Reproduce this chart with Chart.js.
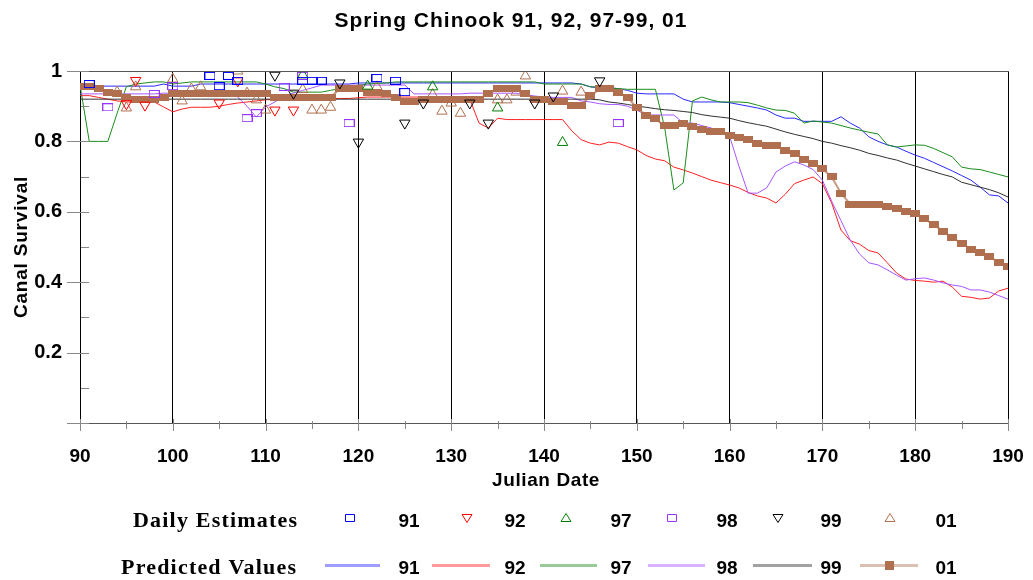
<!DOCTYPE html>
<html>
<head>
<meta charset="utf-8">
<script src="https://cdn.jsdelivr.net/npm/chart.js@4.4.1/dist/chart.umd.min.js"></script>
<style>
  html, body { margin: 0; padding: 0; background: #fff; }
</style>
</head>
<body>
<canvas id="chart" width="1033" height="580"></canvas>
<script>
// julian days 90..190
const days = [];
for (let d = 90; d <= 190; d++) days.push(d);

const xTicks = [90, 100, 110, 120, 130, 140, 150, 160, 170, 180, 190];
const yTicks = [0, 0.2, 0.4, 0.6, 0.8, 1];
const years = ['91', '92', '97', '98', '99', '01'];

// predicted values, one per day
const pred91 = [
  .963,.963,.957,.957,.957,.957,.957,.957,.957,.963,
  .957,.957,.957,.963,.963,.963,.963,.963,.963,.963,
  .963,.963,.963,.963,.963,.963,.963,.963,.963,.963,
  .966,.966,.966,.966,.966,.966,.966,.966,.966,.966,
  .966,.966,.966,.966,.966,.966,.966,.966,.966,.966,
  .966,.966,.966,.966,.963,.955,.952,.952,.95,.945,
  .937,.935,.935,.935,.935,.92,.912,.912,.912,.912,
  .91,.905,.9,.895,.889,.875,.866,.866,.857,.857,
  .857,.857,.87,.852,.838,.813,.8,.79,.784,.772,
  .761,.752,.74,.728,.716,.703,.69,.67,.648,.645,
  .625
];
const pred92 = [
  .93,.93,.925,.92,.915,.912,.912,.912,.912,.898,
  .884,.892,.897,.897,.897,.9,.905,.909,.912,.915,
  .918,.92,.922,.922,.922,.922,.922,.922,.922,.922,
  .924,.926,.926,.926,.926,.926,.926,.926,.926,.926,
  .926,.926,.92,.852,.838,.866,.862,.862,.862,.862,
  .862,.862,.862,.83,.805,.795,.79,.798,.795,.785,
  .776,.76,.75,.745,.727,.719,.71,.7,.69,.683,
  .676,.668,.655,.645,.639,.625,.65,.68,.69,.699,
  .68,.625,.548,.518,.508,.49,.483,.455,.426,.409,
  .405,.403,.4,.403,.386,.36,.357,.352,.355,.375,
  .383
];
const pred97 = [
  .96,.80,.80,.80,.88,.955,.963,.966,.969,.969,
  .963,.966,.969,.969,.969,.969,.969,.969,.969,.969,
  .963,.955,.95,.94,.94,.94,.94,.945,.95,.955,
  .96,.963,.965,.966,.969,.969,.969,.969,.969,.969,
  .969,.969,.969,.969,.969,.969,.969,.969,.969,.969,
  .963,.963,.963,.963,.963,.955,.955,.952,.95,.948,
  .948,.948,.948,.84,.662,.682,.915,.926,.918,.912,
  .912,.912,.91,.903,.895,.889,.888,.88,.852,.858,
  .855,.852,.845,.838,.832,.826,.821,.79,.784,.787,
  .79,.789,.78,.768,.756,.727,.722,.72,.713,.706,
  .699
];
const pred98 = [
  .935,.935,.935,.935,.935,.935,.935,.935,.935,.937,
  .937,.937,.937,.937,.937,.937,.937,.926,.9,.869,
  .898,.912,.93,.937,.945,.952,.96,.96,.96,.96,
  .96,.96,.96,.96,.96,.96,.935,.935,.935,.935,
  .935,.935,.937,.937,.937,.937,.937,.937,.932,.929,
  .926,.925,.925,.925,.915,.912,.907,.905,.905,.9,
  .889,.875,.875,.875,.875,.852,.852,.845,.838,.83,
  .815,.73,.653,.653,.668,.713,.73,.742,.733,.72,
  .69,.63,.575,.52,.48,.455,.449,.435,.42,.406,
  .41,.412,.406,.398,.392,.388,.378,.378,.372,.362,
  .352
];
const pred99 = [
  .92,.92,.92,.92,.92,.92,.92,.92,.92,.92,
  .92,.92,.92,.92,.92,.92,.92,.92,.92,.92,
  .92,.92,.92,.92,.92,.92,.92,.92,.92,.92,
  .92,.92,.92,.92,.92,.92,.92,.92,.92,.92,
  .92,.92,.92,.92,.92,.92,.92,.92,.92,.92,
  .92,.92,.92,.92,.92,.92,.918,.912,.909,.905,
  .9,.897,.893,.89,.888,.885,.882,.876,.872,.869,
  .866,.859,.853,.848,.843,.835,.827,.82,.814,.808,
  .8,.795,.788,.782,.775,.766,.76,.753,.747,.738,
  .73,.722,.714,.706,.699,.684,.677,.67,.663,.654,
  .642
];
const pred01 = [
  .955,.955,.949,.94,.935,.926,.92,.92,.92,.926,
  .935,.935,.935,.935,.935,.935,.935,.935,.935,.935,
  .935,.926,.926,.926,.926,.926,.926,.926,.949,.949,
  .949,.94,.94,.935,.926,.912,.912,.92,.92,.92,
  .92,.92,.92,.92,.937,.949,.949,.949,.937,.92,
  .92,.912,.912,.903,.903,.929,.949,.949,.94,.926,
  .895,.875,.864,.844,.844,.852,.841,.835,.827,.827,
  .818,.81,.804,.795,.787,.787,.773,.767,.75,.736,
  .722,.699,.653,.622,.622,.622,.622,.614,.608,.6,
  .594,.58,.563,.545,.526,.511,.494,.483,.472,.457,
  .446
];

// daily estimates [day, survival]
const est91 = [[91,.963],[104,.986],[105,.957],[106,.986],[107,.972],[114,.972],[115,.972],[116,.972],[122,.98],[124,.972],[125,.94]];
const est92 = [[95,.907],[96,.973],[97,.903],[105,.909],[107,.972],[111,.889],[113,.889]];
const est97 = [[114,.989],[121,.957],[128,.955],[135,.895],[142,.797]];
const est98 = [[93,.897],[98,.935],[100,.957],[108,.866],[109,.88],[112,.955],[114,.986],[119,.852],[148,.852]];
const est99 = [[111,.988],[113,.937],[118,.966],[120,.798],[125,.852],[127,.909],[132,.909],[134,.852],[139,.909],[141,.929],[146,.972]];
const est01 = [[94,.94],[95,.895],[96,.955],[100,.977],[101,.915],[102,.949],[103,.955],[107,1.0],[108,.937],[109,.918],[110,.889],
  [114,.947],[115,.889],[116,.889],[117,.897],[122,.955],[128,.933],[129,.886],[130,.909],[131,.88],[135,.918],[136,.918],
  [137,.94],[138,.986],[142,.943],[144,.94]];

const lineCol = ['#2828ff', '#ff2020', '#1a8c1a', '#a855ff', '#303030', '#b0704f'];
const markCol = ['#0000ff', '#ff0000', '#008000', '#9933ff', '#000000', '#b0704f'];

function boxImage(color, w, h, filled) {
  const c = document.createElement('canvas');
  c.width = w + 1; c.height = h + 1;
  const g = c.getContext('2d');
  if (filled) { g.fillStyle = color; g.fillRect(0, 0, w + 1, h + 1); }
  else { g.strokeStyle = color; g.lineWidth = 1; g.strokeRect(0.5, 0.5, w, h); }
  return c;
}

const toPts = vals => vals.map((v, i) => ({ x: days[i], y: v }));
const toEst = pairs => pairs.map(p => ({ x: p[0], y: p[1] }));

const sq91 = boxImage(markCol[0], 10, 7, false);
const sq98 = boxImage(markCol[3], 10, 7, false);
const sq01 = boxImage(markCol[5], 9, 6, true);

function estSet(data, i, style, rot) {
  return {
    data: toEst(data), showLine: false, borderColor: markCol[i], backgroundColor: 'rgba(0,0,0,0)',
    pointStyle: style, pointRotation: rot || 0, pointRadius: 6, pointBorderWidth: 1
  };
}
function predSet(data, i) {
  return { data: toPts(data), borderColor: lineCol[i], borderWidth: 1, pointRadius: 0, tension: 0 };
}

const datasets = [
  estSet(est91, 0, sq91),
  estSet(est92, 1, 'triangle', 180),
  estSet(est97, 2, 'triangle'),
  estSet(est98, 3, sq98),
  estSet(est99, 4, 'triangle', 180),
  estSet(est01, 5, 'triangle'),
  { data: toPts(pred01), borderColor: 'rgba(176,112,79,0.7)', borderWidth: 2, pointStyle: sq01,
    pointRadius: 5, pointBackgroundColor: lineCol[5], tension: 0 },
  predSet(pred99, 4),
  predSet(pred98, 3),
  predSet(pred97, 2),
  predSet(pred92, 1),
  predSet(pred91, 0)
];

function seg(ctx, x1, y1, x2, y2) {
  ctx.beginPath(); ctx.moveTo(x1, y1); ctx.lineTo(x2, y2); ctx.stroke();
}

const decor = {
  id: 'decor',
  afterDraw(chart) {
    const ctx = chart.ctx, xs = chart.scales.x, ys = chart.scales.y, a = chart.chartArea;
    ctx.save();
    ctx.lineWidth = 1;
    // frame top
    ctx.strokeStyle = '#555';
    seg(ctx, 67, a.top + 0.5, a.right + 1, a.top + 0.5);
    seg(ctx, 67, a.bottom + 0.5, a.left, a.bottom + 0.5);
    // y tick marks
    ctx.strokeStyle = '#888';
    yTicks.forEach(v => {
      const py = Math.round(ys.getPixelForValue(v)) + 0.5;
      seg(ctx, 67, py, 89, py);
      if (v < 1) {
        const pm = Math.round(ys.getPixelForValue(v + 0.1)) + 0.5;
        seg(ctx, 81, pm, 89, pm);
      }
    });
    // x tick marks
    xTicks.forEach(d => {
      const px = Math.round(xs.getPixelForValue(d)) + 0.5;
      seg(ctx, px, a.bottom - 4, px, a.bottom + 8);
      if (d < 190) {
        const pm = Math.round(xs.getPixelForValue(d + 5)) + 0.5;
        seg(ctx, pm, a.bottom - 2, pm, a.bottom + 6);
      }
    });

    // titles
    ctx.fillStyle = '#000';
    ctx.textAlign = 'center';
    ctx.textBaseline = 'middle';
    ctx.font = 'bold 21px Arial, "Liberation Sans", sans-serif';
    ctx.letterSpacing = '1px';
    ctx.fillText('Spring Chinook 91, 92, 97-99, 01', 511, 21);
    ctx.font = 'bold 19px Arial, "Liberation Sans", sans-serif';
    ctx.letterSpacing = '0.6px';
    ctx.fillText('Julian Date', 546, 481);
    ctx.save();
    ctx.translate(22, 247);
    ctx.rotate(-Math.PI / 2);
    ctx.letterSpacing = '0.8px';
    ctx.fillText('Canal Survival', 0, 0);
    ctx.restore();

    // legend
    const rowA = 521, rowB = 568;
    ctx.font = 'bold 22px "Liberation Serif", "Times New Roman", serif';
    ctx.textAlign = 'left';
    ctx.letterSpacing = '1.2px';
    ctx.fillText('Daily Estimates', 133, rowA);
    ctx.fillText('Predicted Values', 121, rowB);
    ctx.letterSpacing = '0px';

    const markX = [350, 467, 566, 672, 778, 890];
    const labX = [409, 515, 621, 727, 831, 946];
    const lineX = [[325, 380], [432, 490], [540, 597], [648, 705], [753, 812], [860, 918]];
    ctx.font = 'bold 19px Arial, "Liberation Sans", sans-serif';
    ctx.textAlign = 'center';
    years.forEach((y, i) => {
      ctx.fillStyle = '#000';
      ctx.fillText(y, labX[i], rowA + 1);
      ctx.fillText(y, labX[i], rowB + 1);
      // marker
      const mx = markX[i], my = rowA - 3;
      ctx.strokeStyle = markCol[i];
      ctx.lineWidth = 1;
      ctx.beginPath();
      if (i === 0 || i === 3) {
        ctx.rect(mx - 4.5, my - 3.5, 9, 7);
      } else if (i === 1 || i === 4) {
        ctx.moveTo(mx - 5, my - 3.5); ctx.lineTo(mx + 5, my - 3.5); ctx.lineTo(mx, my + 4.5); ctx.closePath();
      } else {
        ctx.moveTo(mx - 5, my + 3.5); ctx.lineTo(mx + 5, my + 3.5); ctx.lineTo(mx, my - 4.5); ctx.closePath();
      }
      ctx.stroke();
      // line sample
      ctx.globalAlpha = 0.45;
      ctx.strokeStyle = lineCol[i];
      ctx.lineWidth = 3;
      seg(ctx, lineX[i][0], rowB - 2.5, lineX[i][1], rowB - 2.5);
      ctx.globalAlpha = 1;
      if (i === 5) {
        ctx.fillStyle = lineCol[5];
        ctx.fillRect(885, rowB - 7, 9, 9);
      }
    });
    ctx.restore();
  }
};

new Chart(document.getElementById('chart').getContext('2d'), {
  type: 'line',
  data: { datasets },
  options: {
    responsive: false,
    animation: false,
    events: [],
    layout: { padding: { left: 0, right: 25, top: 71, bottom: 0 } },
    plugins: { legend: { display: false }, title: { display: false }, tooltip: { enabled: false } },
    scales: {
      x: {
        type: 'linear', min: 90, max: 190,
        afterFit: s => { s.height = 157; s.paddingLeft = 0; s.paddingRight = 0; },
        afterBuildTicks: s => { s.ticks = xTicks.map(v => ({ value: v })); },
        grid: { color: '#000', lineWidth: 1, drawTicks: false },
        border: { color: '#555' },
        ticks: { color: '#000', padding: 22, maxRotation: 0, font: { family: 'Arial, "Liberation Sans", sans-serif', size: 19, weight: 'bold' } }
      },
      y: {
        min: 0, max: 1,
        afterFit: s => { s.width = 80; s.paddingTop = 0; s.paddingBottom = 0; },
        afterBuildTicks: s => { s.ticks = yTicks.map(v => ({ value: v })); },
        grid: { display: false, drawTicks: false },
        border: { color: '#000' },
        ticks: {
          color: '#000', padding: 18,
          font: { family: 'Arial, "Liberation Sans", sans-serif', size: 20, weight: 'bold' },
          callback: v => (v === 0 ? '' : String(v))
        }
      }
    }
  },
  plugins: [decor]
});
</script>
</body>
</html>
